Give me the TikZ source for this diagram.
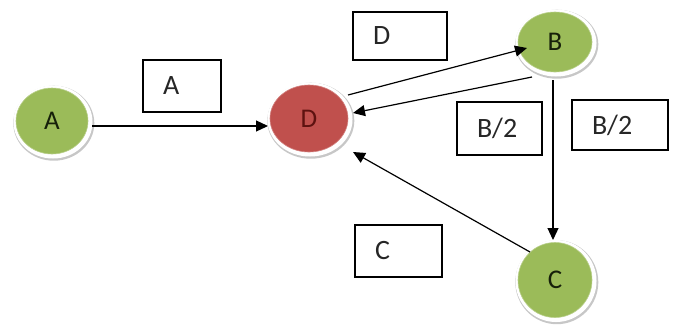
\documentclass[tikz,border=0pt]{standalone}
\usepackage{fontspec}
\setmainfont{Carlito}
\usetikzlibrary{shapes.geometric,arrows.meta}
\definecolor{ogreen}{HTML}{9BBB59}
\definecolor{ored}{HTML}{C0504D}
\definecolor{dred}{HTML}{5E1210}
\definecolor{dgreen}{HTML}{16200A}
\tikzset{
  halo/.style={
    preaction={draw=black!22, line width=9pt, transform canvas={shift={(1.8pt,-2.2pt)}}},
    preaction={draw=white, line width=7pt, transform canvas={shift={(1pt,-1pt)}}}},
  ball/.style={ellipse, halo, inner sep=0pt},
  gball/.style={ball, fill=ogreen, draw=ogreen!70!white, line width=0.6pt, text=dgreen},
  rball/.style={ball, fill=ored, draw=ored!70!white, line width=0.6pt, text=dred},
  lbl/.style={draw=black, line width=1.1pt, inner xsep=20pt, text width=#1, align=left,
    text=black!85},
  arr/.style={draw=black, line width=1.2pt, -{Triangle[length=12pt,width=11pt]}}
}
\newcommand{\balltext}[1]{\fontsize{27}{31}\selectfont #1}
\newcommand{\boxtext}[1]{\fontsize{28}{32}\selectfont #1}
\begin{document}
\begin{tikzpicture}[x=1pt,y=-1pt]
\useasboundingbox (0,0) rectangle (674,325);
% circles
\node[gball, minimum width=72pt, minimum height=66pt] (A) at (52,121) {\balltext{A}};
\node[rball, minimum width=78pt, minimum height=67pt] (D) at (309,118.5) {\balltext{D}};
\node[gball, minimum width=74pt, minimum height=60pt] (B) at (555,42) {\balltext{B}};
\node[gball, minimum width=74pt, minimum height=75pt] (C) at (555,280) {\balltext{C}};
% label boxes
\node[lbl=38pt, minimum height=52pt] (lA) at (182,86) {\boxtext{A}};
\node[lbl=54pt, minimum height=48pt] (lD) at (400,36) {\boxtext{D}};
\node[lbl=45pt, minimum height=53pt] (lB1) at (499.5,128.5) {\boxtext{B/2}};
\node[lbl=56pt, minimum height=50pt] (lB2) at (620,125) {\boxtext{B/2}};
\node[lbl=47pt, minimum height=52pt] (lC) at (398.5,251) {\boxtext{C}};
% connectors
\draw[arr] ([shift={(40,5)}]A.center) -- ([shift={(-41,7.5)}]D.center);
\draw[arr] ([shift={(39,-23.5)}]D.center) -- ([shift={(-28,6)}]B.center);
\draw[arr] ([shift={(-23,35)}]B.center) -- ([shift={(44,-5.5)}]D.center);
\draw[arr] ([shift={(-2,38)}]B.center) -- ([shift={(-2,-40)}]C.center);
\draw[arr] ([shift={(-25,-28)}]C.center) -- ([shift={(44,33.5)}]D.center);
\end{tikzpicture}
\end{document}
